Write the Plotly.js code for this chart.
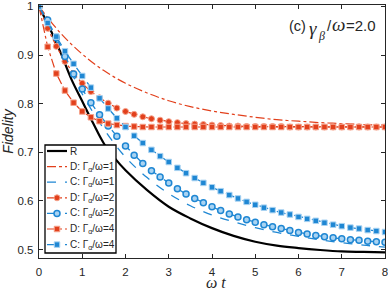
<!DOCTYPE html>
<html>
<head>
<meta charset="utf-8">
<script src="https://cdn.plot.ly/plotly-3.0.1.min.js"></script>
<style>html,body{margin:0;padding:0;background:#fff;}#chart{width:388px;height:291px;}</style>
</head>
<body>
<div id="chart"></div>
<script>
// time grid for marker series (omega t)
var tMark = [0,0.2,0.4,0.6,0.8,1.0,1.2,1.4,1.6,1.8,2.0,2.2,2.4,2.6,2.8,3.0,3.2,3.4,3.6,3.8,4.0,
             4.2,4.4,4.6,4.8,5.0,5.2,5.4,5.6,5.8,6.0,6.2,6.4,6.6,6.8,7.0,7.2,7.4,7.6,7.8,8.0];
// time grid for R
var tR = [0,0.25,0.5,0.75,1.0,1.25,1.5,1.75,2.0,2.5,3.0,3.5,4.0,4.5,5.0,5.5,6.0,6.5,7.0,7.5,8.0];
var fR = [1.000,0.955,0.905,0.850,0.805,0.760,0.718,0.688,0.663,0.622,0.588,0.564,0.544,0.528,0.516,0.508,0.503,0.499,0.496,0.495,0.494];
// time grid for lines without markers
var tLine = [0,0.5,1.0,1.5,2.0,2.5,3.0,3.5,4.0,4.5,5.0,5.5,6.0,6.5,7.0,7.5,8.0];
var fD1 = [1.000,0.945,0.902,0.868,0.842,0.822,0.806,0.794,0.785,0.778,0.772,0.767,0.764,0.761,0.759,0.757,0.756];
var fC1 = [1.000,0.910,0.820,0.748,0.690,0.648,0.615,0.590,0.571,0.557,0.545,0.535,0.527,0.520,0.514,0.509,0.505];
// marker series
var fD2 = [1.000,0.955,0.918,0.887,0.862,0.842,0.825,0.812,0.801,0.791,0.784,0.778,0.773,0.769,0.766,0.763,0.761,0.759,0.758,0.757,0.756,
           0.755,0.754,0.754,0.753,0.753,0.753,0.753,0.753,0.752,0.752,0.752,0.752,0.752,0.752,0.752,0.752,0.752,0.752,0.752,0.752];
var fC2 = [1.000,0.972,0.936,0.897,0.861,0.830,0.802,0.777,0.754,0.733,0.713,0.694,0.677,0.662,0.649,0.637,0.625,0.614,0.605,0.596,0.588,
           0.580,0.573,0.567,0.561,0.556,0.551,0.547,0.543,0.539,0.535,0.532,0.529,0.526,0.524,0.522,0.520,0.519,0.517,0.516,0.515];
var fD4 = [1.000,0.917,0.862,0.827,0.802,0.784,0.772,0.764,0.759,0.756,0.754,0.753,0.752,0.752,0.752,0.752,0.752,0.752,0.752,0.752,0.752,
           0.752,0.752,0.752,0.752,0.752,0.752,0.752,0.752,0.752,0.752,0.752,0.752,0.752,0.752,0.752,0.752,0.752,0.752,0.752,0.752];
var fC4 = [1.000,0.966,0.938,0.908,0.882,0.857,0.833,0.811,0.790,0.770,0.752,0.734,0.719,0.705,0.692,0.680,0.668,0.657,0.647,0.637,0.628,
           0.620,0.612,0.605,0.598,0.592,0.586,0.581,0.576,0.572,0.567,0.563,0.559,0.555,0.551,0.548,0.545,0.543,0.540,0.538,0.536];
var names = ['R','D: Γ<sub>α</sub>/ω=1','C: Γ<sub>α</sub>/ω=1','D: Γ<sub>α</sub>/ω=2','C: Γ<sub>α</sub>/ω=2','D: Γ<sub>α</sub>/ω=4','C: Γ<sub>α</sub>/ω=4'];
var xTicks = [0,1,2,3,4,5,6,7,8];
var yTicks = [0.5,0.6,0.7,0.8,0.9,1];
var yTickText = ['0.5','0.6','0.7','0.8','0.9','1'];

var RED = '#e2401c', RED_L = '#f5a38c', BLUE = '#1f87d3', BLUE_L = '#a9d3f2';

var traces = [
  {x:tR, y:fR, name:names[0], mode:'lines', line:{color:'#000', width:2.2, shape:'spline'}},
  {x:tLine, y:fD1, name:names[1], mode:'lines', line:{color:RED, width:1.2, dash:'dashdot', shape:'spline'}},
  {x:tLine, y:fC1, name:names[2], mode:'lines', line:{color:BLUE, width:1.3, dash:'dash', shape:'spline'}},
  {x:tMark, y:fD2, name:names[3], mode:'lines+markers', line:{color:RED, width:1.2, dash:'dashdot'},
   marker:{symbol:'circle', size:6, color:RED, line:{color:RED_L, width:1}}},
  {x:tMark, y:fC2, name:names[4], mode:'lines+markers', line:{color:BLUE, width:1.3, dash:'dash'},
   marker:{symbol:'circle', size:6, color:BLUE_L, line:{color:BLUE, width:1.5}}},
  {x:tMark, y:fD4, name:names[5], mode:'lines+markers', line:{color:RED, width:1.2, dash:'dashdot'},
   marker:{symbol:'square', size:5.5, color:RED, line:{color:RED_L, width:1}}},
  {x:tMark, y:fC4, name:names[6], mode:'lines+markers', line:{color:BLUE, width:1.3, dash:'dash'},
   marker:{symbol:'square', size:5.5, color:BLUE, line:{color:BLUE_L, width:1}}}
];

var W = 388, H = 291, ML = 39, MR = 3, MT = 5, MB = 33;
var PW = W - ML - MR, PH = H - MT - MB;
function px2x(p){ return (p - ML) / PW; }
function py2y(p){ return (H - MB - p) / PH; }

var SANS = 'Liberation Sans, Arial, sans-serif', SERIFF = 'Liberation Serif, Times New Roman, serif';
// hand-built legend box (compact, like the reference)
var shapes = [], annotations = [];
var LX0 = 45, LX1 = 116, LY0 = 145, LY1 = 253, ROW = 15.6, FIRST = 151;
shapes.push({type:'rect', xref:'paper', yref:'paper', x0:px2x(LX0), x1:px2x(LX1), y0:py2y(LY1), y1:py2y(LY0),
  fillcolor:'#fff', line:{color:'#000', width:1.3}, layer:'above'});
traces.forEach(function(tr, i){
  var yc = FIRST + i * ROW;
  shapes.push({type:'line', xref:'paper', yref:'paper', x0:px2x(47), x1:px2x(67), y0:py2y(yc), y1:py2y(yc),
    line:{color:tr.line.color, width:tr.line.width, dash:tr.line.dash || 'solid'}, layer:'above'});
  if (tr.marker) {
    var r = tr.marker.size / 2, cx = 57;
    shapes.push({type: tr.marker.symbol === 'circle' ? 'circle' : 'rect', xref:'paper', yref:'paper',
      x0:px2x(cx - r), x1:px2x(cx + r), y0:py2y(yc + r), y1:py2y(yc - r),
      fillcolor:tr.marker.color, line:{color:tr.marker.line.color, width:tr.marker.line.width}, layer:'above'});
  }
  annotations.push({xref:'paper', yref:'paper', x:px2x(68), y:py2y(yc), xanchor:'left', yanchor:'middle',
    showarrow:false, text:tr.name, font:{size:10, color:'#262626', family:SANS}});
});
// panel label "(c) γβ/ω=2.0", set piece by piece to mimic the mixed fonts
function lab(text, xpx, ypx, size, fam, anchor, yanchor){
  annotations.push({xref:'paper', yref:'paper', x:px2x(xpx), y:py2y(ypx), xanchor:anchor || 'left', yanchor:yanchor || 'middle',
    showarrow:false, borderpad:0, text:text, font:{size:size, color:'#262626', family:fam}});
}
lab('(c)', 288, 26, 14.5, SANS);
lab('<i>γ</i>', 308, 28, 19, SERIFF);
lab('<i>β</i>', 317, 36, 12, SERIFF);
lab('/', 326, 26, 15, SANS);
lab('<i>ω</i>', 331, 25, 19, SERIFF);
lab('=2.0', 345, 26, 15, SANS);
// x-axis title
lab('<i>ω t</i>', 216, 292, 16, SERIFF, 'center', 'bottom');

var axisCommon = {showgrid:false, zeroline:false, showline:true, linecolor:'#262626', linewidth:1.3,
  mirror:'ticks', ticks:'inside', ticklen:4, tickwidth:1, tickcolor:'#262626', ticklabeloverflow:'allow',
  tickfont:{family:SANS, size:11.5, color:'#262626'}, automargin:false};

var layout = {
  width:W, height:H,
  margin:{l:ML, r:MR, t:MT, b:MB},
  paper_bgcolor:'#fff', plot_bgcolor:'#fff',
  font:{family:SANS, color:'#262626'},
  xaxis:Object.assign({}, axisCommon, {range:[0,8], tickvals:xTicks, ticklabelstandoff:3}),
  yaxis:Object.assign({}, axisCommon, {range:[0.4825,1.003], tickvals:yTicks, ticktext:yTickText, ticklabelstandoff:2,
    title:{text:'<i>Fidelity</i>', font:{size:14}, standoff:2}}),
  showlegend:false,
  shapes:shapes,
  annotations:annotations
};

Plotly.newPlot('chart', traces, layout, {staticPlot:true, displayModeBar:false});
</script>
</body>
</html>
